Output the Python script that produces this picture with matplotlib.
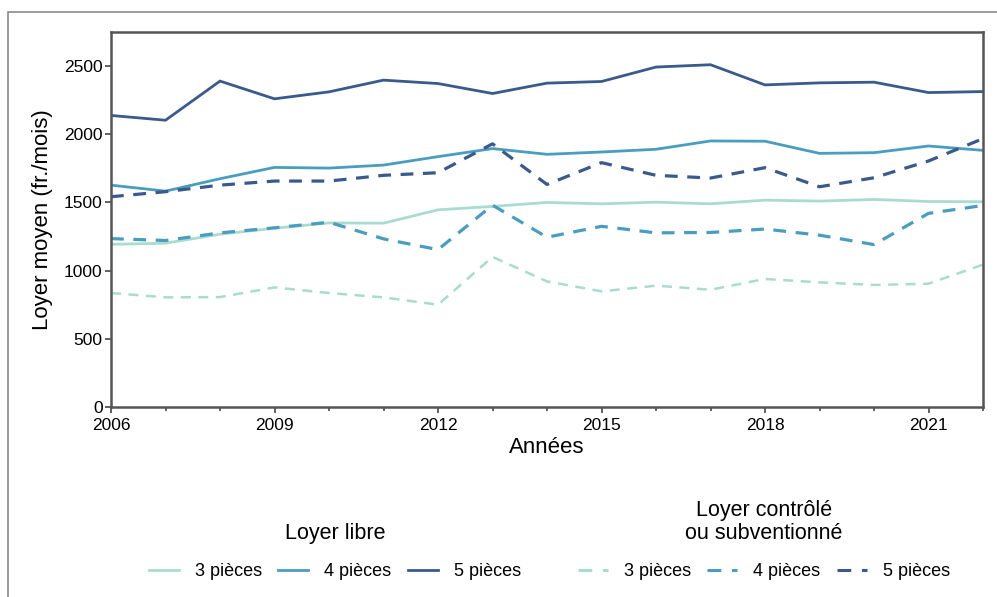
import matplotlib.pyplot as plt
from matplotlib.lines import Line2D
from matplotlib.patches import Rectangle
from matplotlib.ticker import MultipleLocator

plt.rcParams['font.family'] = ['Liberation Sans', 'DejaVu Sans']

years = list(range(2006, 2023))

# loyer libre
libre_3 = [1193, 1201, 1267, 1311, 1350, 1348, 1446, 1471, 1500, 1490, 1502, 1490, 1517, 1510, 1522, 1507, 1505]
libre_4 = [1627, 1583, 1674, 1757, 1752, 1774, 1836, 1895, 1853, 1870, 1890, 1951, 1949, 1860, 1865, 1914, 1882]
libre_5 = [2138, 2103, 2390, 2260, 2311, 2397, 2372, 2299, 2375, 2387, 2493, 2510, 2362, 2377, 2382, 2306, 2313]

# loyer controle ou subventionne
ctrl_3 = [836, 804, 806, 877, 836, 804, 750, 1101, 921, 848, 890, 860, 939, 914, 895, 904, 1044]
ctrl_4 = [1235, 1221, 1277, 1314, 1355, 1233, 1154, 1480, 1245, 1325, 1277, 1280, 1305, 1260, 1191, 1420, 1478]
ctrl_5 = [1542, 1579, 1627, 1657, 1657, 1699, 1718, 1930, 1632, 1792, 1699, 1679, 1755, 1615, 1681, 1804, 1968]

labels = ['3 pièces', '4 pièces', '5 pièces']
colors = ['#a9dccf', '#4a9dbf', '#3a5a8c']

fig = plt.figure(figsize=(9.97, 5.97), dpi=100)
ax = fig.add_axes([111 / 997, 1 - 407 / 597, (983 - 111) / 997, (407 - 32) / 597])

# outer frame (only left and top visible in the crop)
fig.patches.append(Rectangle((8 / 997, -0.1), 1.2, 1 - 12 / 597 + 0.1, transform=fig.transFigure,
                             fill=False, edgecolor='#8a8a8a', linewidth=1.2))

for vals, c in zip([libre_3, libre_4, libre_5], colors):
    ax.plot(years, vals, color=c, linewidth=2, solid_joinstyle='miter')
for vals, c, lw in zip([ctrl_3, ctrl_4, ctrl_5], colors, [1.8, 2.3, 2.3]):
    ax.plot(years, vals, color=c, linewidth=lw, linestyle=(0, (4, 3)))

ax.set_xlim(2006, 2022)
ax.set_ylim(0, 2750)
ax.set_xticks(range(2006, 2023, 3))
ax.xaxis.set_minor_locator(MultipleLocator(1))
ax.set_yticks(range(0, 2501, 500))
ax.tick_params(axis='both', which='major', labelsize=13, length=4, width=1.3, color='#555555', pad=2)
ax.tick_params(axis='x', which='major', labelsize=12.5, pad=4)
ax.tick_params(axis='y', which='major', labelsize=12.5)
ax.tick_params(axis='x', which='minor', length=3, width=1.3, color='#555555')
for s in ax.spines.values():
    s.set_color('#555555')
    s.set_linewidth(1.8)

ax.set_xlabel('Années', fontsize=16, labelpad=3)
ax.set_ylabel('Loyer moyen (fr./mois)', fontsize=16, labelpad=8)

fig.text(335 / 997, 1 - 533 / 597, 'Loyer libre', ha='center', va='center', fontsize=15.5)
fig.text(764 / 997, 1 - 522 / 597, 'Loyer contrôlé\nou subventionné', ha='center', va='center',
         fontsize=15.5, linespacing=1.15)

h_libre = [Line2D([], [], color=c, linewidth=2) for c in colors]
h_ctrl = [Line2D([], [], color=c, linewidth=2.2, linestyle=(0, (4.5, 3.5))) for c in colors]
kw = dict(ncol=3, frameon=False, fontsize=13, handlelength=1.65, handletextpad=0.9,
          columnspacing=0.9, loc='center')
fig.legend(h_libre, labels, bbox_to_anchor=(335 / 997, 1 - 572 / 597), **kw)
fig.legend(h_ctrl, labels, bbox_to_anchor=(764 / 997, 1 - 572 / 597), **kw)

fig.savefig('out.png', dpi=100)
